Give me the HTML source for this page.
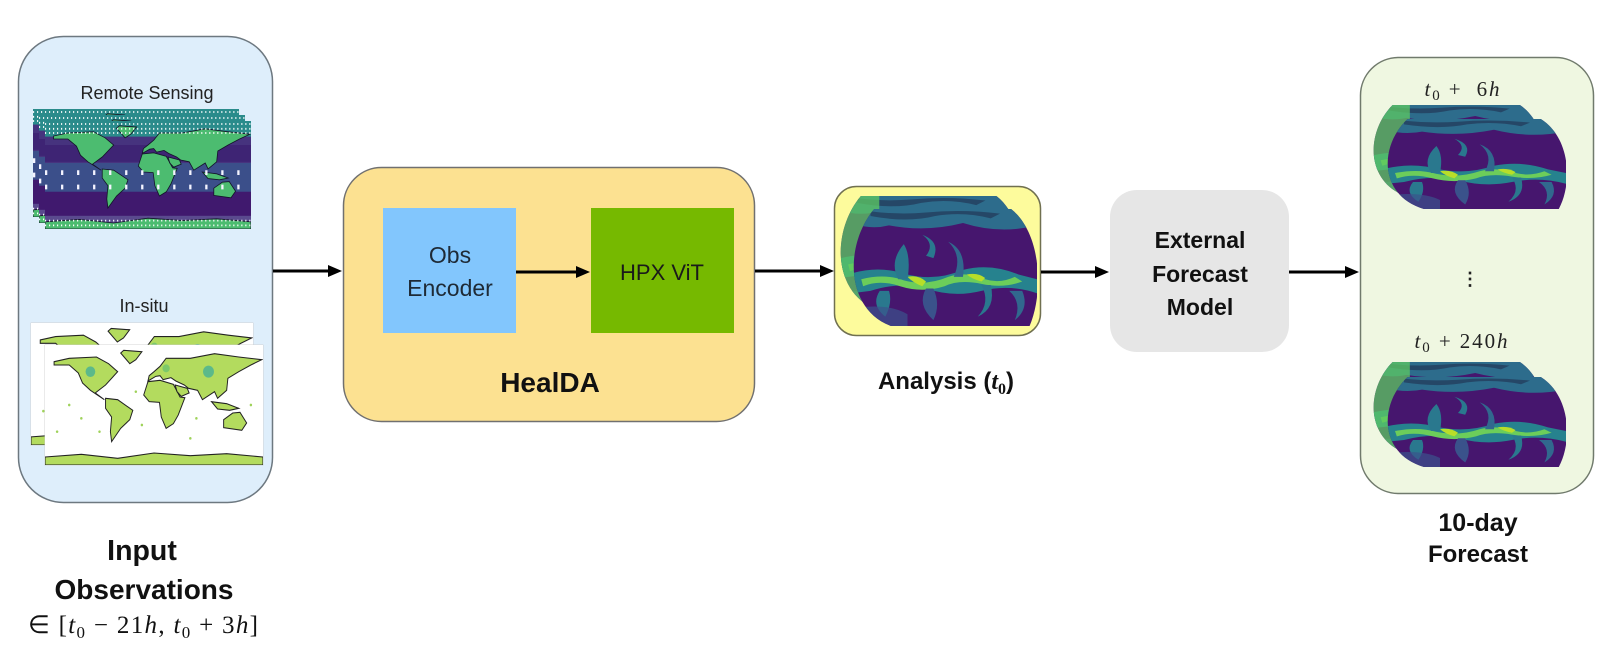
<!DOCTYPE html>
<html><head><meta charset="utf-8">
<style>
html,body{margin:0;padding:0;background:#fff;}
svg{display:block}
</style></head><body>
<svg width="1600" height="659" viewBox="0 0 1600 659" xmlns="http://www.w3.org/2000/svg">
<defs>
  <symbol id="land" viewBox="0 0 360 180" preserveAspectRatio="none">
    <path d="M15,25 L40,20 L85,18 L105,28 L120,40 L100,60 L83,72 L98,82 L75,68 L62,57 L55,42 L40,30 L15,30Z"/>
    <path d="M125,12 L130,8 L160,10 L150,22 L140,28Z"/>
    <path d="M100,80 L120,82 L145,98 L140,112 L125,125 L110,145 L108,130 L110,108 L100,95Z"/>
    <path d="M163,75 L170,55 L190,53 L212,59 L223,78 L231,79 L220,105 L212,118 L200,125 L192,108 L189,86 L172,85Z"/>
    <path d="M170,54 L172,46 L180,40 L190,32 L200,20 L240,20 L280,13 L320,18 L358,22 L340,30 L320,40 L302,50 L300,68 L285,80 L280,70 L260,82 L252,68 L237,65 L230,60 L216,54 L208,49 L195,52 L190,46 L183,47Z"/>
    <path d="M215,60 L235,65 L238,72 L225,77 L218,70Z"/>
    <path d="M295,112 L310,102 L322,101 L333,117 L325,128 L295,124Z"/>
    <path d="M275,85 L300,88 L320,95 L305,98 L285,96Z"/>
    <path d="M0,168 L60,164 L120,170 L180,162 L240,166 L300,163 L360,168 L360,180 L0,180Z"/>
  </symbol>

  <symbol id="rs" viewBox="0 0 360 180" preserveAspectRatio="none">
    <rect width="360" height="180" fill="#46337e"/>
    <rect y="0" width="360" height="26" fill="#2a8b8b"/>
    <rect y="40" width="360" height="28" fill="#3e2474"/>
    <rect y="70" width="360" height="48" fill="#3b4f8a"/>
    <rect y="118" width="360" height="42" fill="#40196e"/>
    <rect y="158" width="360" height="22" fill="#5a4a8e"/>
    <use href="#land" x="0" y="0" width="360" height="180" fill="#4cbc70"/>
    <use href="#land" x="0" y="0" width="360" height="180" fill="none" stroke="#14142a" stroke-width="1.4"/>
    <path d="M0,5 H360 M0,13 H360 M0,20 H360 M0,166 H360 M0,174 H360" stroke="#fff" stroke-width="3" stroke-dasharray="2 5"/>
    <path d="M0,86 H360 M0,110 H360" stroke="#f4f4ff" stroke-width="8" stroke-dasharray="4 24"/>
  </symbol>

  <symbol id="insitu" viewBox="0 0 360 180" preserveAspectRatio="none">
    <rect width="360" height="180" fill="#fff"/>
    <use href="#land" x="0" y="0" width="360" height="180" fill="#b3db5e" stroke="#222" stroke-width="1.6"/>
    <circle cx="75" cy="40" r="8" fill="#5cb98a"/>
    <circle cx="270" cy="40" r="9" fill="#5cb98a"/>
    <circle cx="200" cy="35" r="6" fill="#7cc86a"/>
    <g fill="#9fd25a">
      <circle cx="40" cy="90" r="2"/><circle cx="60" cy="110" r="2"/><circle cx="150" cy="70" r="2"/>
      <circle cx="160" cy="120" r="2"/><circle cx="250" cy="110" r="2"/><circle cx="340" cy="90" r="2"/>
      <circle cx="20" cy="130" r="2"/><circle cx="90" cy="130" r="2"/><circle cx="240" cy="140" r="2"/>
    </g>
  </symbol>

  <clipPath id="proj" clipPathUnits="userSpaceOnUse">
    <path d="M12,0 L86,0 C102,20 104,70 96,100 L21,100 C-4,85 -4,30 12,0Z"/>
  </clipPath>

  <symbol id="field" viewBox="0 0 100 100" preserveAspectRatio="none">
    <rect width="100" height="100" fill="#46166e"/>
    <path d="M0,0 H100 V14 Q80,22 60,12 Q40,20 20,14 Q10,18 0,12Z" fill="#2d6c8c"/>
    <path d="M10,6 Q30,12 45,6 Q60,2 75,8 L80,4 Q60,0 40,3 Q25,5 10,2Z" fill="#1f2f4f" opacity=".6"/>
    <path d="M0,55 Q15,48 30,56 Q45,62 60,52 Q75,46 90,56 L100,60 V72 Q85,64 70,70 Q55,76 40,68 Q25,62 10,70 L0,72Z" fill="#26828e"/>
    <path d="M5,60 Q18,55 28,61 Q40,66 52,58 Q62,53 72,60 Q80,64 88,58 L92,62 Q82,68 70,64 Q58,60 50,66 Q38,72 26,66 Q15,60 6,66Z" fill="#6ccd5a"/>
    <path d="M30,58 Q36,56 40,62 L38,66 Q33,63 30,58Z" fill="#b8de29"/>
    <path d="M62,56 Q68,54 72,59 L70,62 Q65,60 62,56Z" fill="#b8de29"/>
    <path d="M25,60 Q20,45 28,30 Q32,40 30,60Z" fill="#2a788e"/>
    <path d="M55,58 Q60,40 52,28 Q62,35 60,58Z" fill="#31688e"/>
    <path d="M40,40 Q45,30 38,22 Q48,28 44,42Z" fill="#2a788e"/>
    <path d="M70,65 Q75,80 68,92 Q78,85 75,65Z" fill="#2a788e"/>
    <path d="M40,68 Q35,82 44,95 Q48,82 44,68Z" fill="#3a528b"/>
    <path d="M15,70 Q10,82 18,92 Q22,80 20,70Z" fill="#2a788e"/>
    <path d="M0,85 Q20,80 30,90 L30,100 H0Z" fill="#3b528b" opacity=".7"/>
    <path d="M85,70 Q92,80 88,95 Q96,85 92,70Z" fill="#31688e"/>
  </symbol>
</defs>

<!-- ===== Left panel ===== -->
<rect x="18.5" y="36.5" width="254" height="466" rx="45" fill="#deeefb" stroke="#6d7880" stroke-width="1.5"/>
<text x="147" y="99" font-family="Liberation Sans, sans-serif" font-size="18" fill="#222" text-anchor="middle">Remote Sensing</text>
<use href="#rs" x="33" y="109" width="206" height="108"/>
<use href="#rs" x="39" y="115" width="206" height="108"/>
<use href="#rs" x="45" y="121" width="206" height="108"/>
<text x="144" y="312" font-family="Liberation Sans, sans-serif" font-size="18" fill="#222" text-anchor="middle">In-situ</text>
<rect x="31" y="323" width="222" height="122" fill="#fff" stroke="#ccc" stroke-width="0.8"/>
<use href="#insitu" x="31" y="323" width="222" height="122"/>
<rect x="45" y="345" width="218" height="120" fill="#fff" stroke="#ccc" stroke-width="0.8"/>
<use href="#insitu" x="45" y="345" width="218" height="120"/>

<text x="142" y="560" font-family="Liberation Sans, sans-serif" font-size="28.5" font-weight="bold" fill="#111" text-anchor="middle">Input</text>
<text x="144" y="599" font-family="Liberation Sans, sans-serif" font-size="28" font-weight="bold" fill="#111" text-anchor="middle">Observations</text>
<text x="143" y="633" font-family="Liberation Serif, serif" font-size="25" fill="#111" text-anchor="middle" textLength="230" lengthAdjust="spacing">∈ [<tspan font-style="italic">t</tspan><tspan font-size="17" dy="5">0</tspan><tspan dy="-5"> − 21</tspan><tspan font-style="italic">h</tspan>, <tspan font-style="italic">t</tspan><tspan font-size="17" dy="5">0</tspan><tspan dy="-5"> + 3</tspan><tspan font-style="italic">h</tspan>]</text>

<!-- arrow 1 -->
<line x1="273" y1="271" x2="330" y2="271" stroke="#000" stroke-width="3"/>
<polygon points="328,265 342,271 328,277" fill="#000"/>

<!-- ===== HealDA ===== -->
<rect x="343.5" y="167.5" width="411" height="254" rx="38" fill="#fce191" stroke="#707070" stroke-width="1.5"/>
<rect x="383" y="208" width="133" height="125" fill="#82c6fd"/>
<rect x="591" y="208" width="143" height="125" fill="#76b900"/>
<text x="450" y="263" font-family="Liberation Sans, sans-serif" font-size="23" fill="#1e2a36" text-anchor="middle">Obs</text>
<text x="450" y="296" font-family="Liberation Sans, sans-serif" font-size="23" fill="#1e2a36" text-anchor="middle">Encoder</text>
<line x1="516" y1="272" x2="578" y2="272" stroke="#000" stroke-width="3"/>
<polygon points="576,266 590,272 576,278" fill="#000"/>
<text x="662" y="280" font-family="Liberation Sans, sans-serif" font-size="22" fill="#1a1a1a" text-anchor="middle">HPX ViT</text>
<text x="550" y="392" font-family="Liberation Sans, sans-serif" font-size="28" font-weight="bold" fill="#111" text-anchor="middle">HealDA</text>

<!-- arrow 3 -->
<line x1="755" y1="271" x2="822" y2="271" stroke="#000" stroke-width="3"/>
<polygon points="820,265 834,271 820,277" fill="#000"/>

<!-- ===== Analysis ===== -->
<rect x="834.5" y="186.5" width="206" height="149" rx="22" fill="#fdfb9c" stroke="#707050" stroke-width="1.5"/>
<g transform="translate(839,196) scale(1.83,1.14)">
  <g clip-path="url(#proj)">
    <use href="#field" width="100" height="100"/>
    <rect x="0" y="0" width="22" height="100" fill="#5ec962" opacity=".75"/>
  </g>
</g>
<g transform="translate(852,209) scale(1.85,1.17)">
  <g clip-path="url(#proj)">
    <use href="#field" width="100" height="100"/>
  </g>
</g>
<text x="946" y="389" font-family="Liberation Sans, sans-serif" font-size="24" font-weight="bold" fill="#111" text-anchor="middle">Analysis (<tspan font-family="Liberation Serif, serif" font-style="italic">t</tspan><tspan font-family="Liberation Serif, serif" font-size="16" dy="5">0</tspan><tspan dy="-5">)</tspan></text>

<!-- arrow 4 -->
<line x1="1041" y1="272" x2="1097" y2="272" stroke="#000" stroke-width="3"/>
<polygon points="1095,266 1109,272 1095,278" fill="#000"/>

<!-- ===== External Forecast Model ===== -->
<rect x="1110" y="190" width="179" height="162" rx="27" fill="#e6e6e6"/>
<text x="1200" y="248" font-family="Liberation Sans, sans-serif" font-size="23" font-weight="bold" fill="#111" text-anchor="middle">External</text>
<text x="1200" y="282" font-family="Liberation Sans, sans-serif" font-size="23" font-weight="bold" fill="#111" text-anchor="middle">Forecast</text>
<text x="1200" y="315" font-family="Liberation Sans, sans-serif" font-size="23" font-weight="bold" fill="#111" text-anchor="middle">Model</text>

<!-- arrow 5 -->
<line x1="1289" y1="272" x2="1347" y2="272" stroke="#000" stroke-width="3"/>
<polygon points="1345,266 1359,272 1345,278" fill="#000"/>

<!-- ===== Right panel ===== -->
<rect x="1360.5" y="57.5" width="233" height="436" rx="38" fill="#eff7e1" stroke="#707a6c" stroke-width="1.5"/>
<text x="1462" y="96" font-family="Liberation Serif, serif" font-size="21" fill="#222" text-anchor="middle" textLength="75" lengthAdjust="spacing"><tspan font-style="italic">t</tspan><tspan font-size="15" dy="4">0</tspan><tspan dy="-4">&#160;+&#160;&#160;6</tspan><tspan font-style="italic">h</tspan></text>
<g transform="translate(1372,105) scale(1.72,0.92)">
  <g clip-path="url(#proj)">
    <use href="#field" width="100" height="100"/>
    <rect x="0" y="0" width="22" height="100" fill="#5ec962" opacity=".75"/>
  </g>
</g>
<g transform="translate(1386,119) scale(1.80,0.90)">
  <g clip-path="url(#proj)">
    <use href="#field" width="100" height="100"/>
  </g>
</g>
<text x="1470" y="285" font-family="Liberation Sans, sans-serif" font-size="18" font-weight="bold" fill="#222" text-anchor="middle">⋮</text>
<text x="1461" y="348" font-family="Liberation Serif, serif" font-size="21" fill="#222" text-anchor="middle" textLength="93" lengthAdjust="spacing"><tspan font-style="italic">t</tspan><tspan font-size="15" dy="4">0</tspan><tspan dy="-4">&#160;+ 240</tspan><tspan font-style="italic">h</tspan></text>
<g transform="translate(1372,362) scale(1.72,0.92)">
  <g clip-path="url(#proj)">
    <use href="#field" width="100" height="100"/>
    <rect x="0" y="0" width="22" height="100" fill="#5ec962" opacity=".75"/>
  </g>
</g>
<g transform="translate(1386,377) scale(1.80,0.90)">
  <g clip-path="url(#proj)">
    <use href="#field" width="100" height="100"/>
  </g>
</g>
<text x="1478" y="531" font-family="Liberation Sans, sans-serif" font-size="25" font-weight="bold" fill="#111" text-anchor="middle">10-day</text>
<text x="1478" y="562" font-family="Liberation Sans, sans-serif" font-size="24" font-weight="bold" fill="#111" text-anchor="middle">Forecast</text>
</svg>
</body></html>
